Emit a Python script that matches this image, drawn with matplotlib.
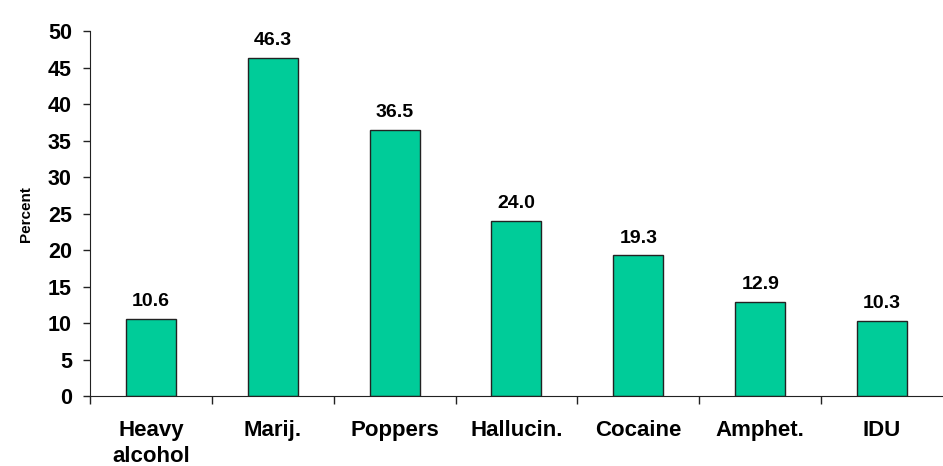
import matplotlib.pyplot as plt

categories = ["Heavy\nalcohol", "Marij.", "Poppers", "Hallucin.", "Cocaine", "Amphet.", "IDU"]
percents = [10.6, 46.3, 36.5, 24.0, 19.3, 12.9, 10.3]
yticks = [0, 5, 10, 15, 20, 25, 30, 35, 40, 45, 50]

plt.rcParams['font.family'] = ['Liberation Sans', 'DejaVu Sans']
plt.rcParams['font.weight'] = 'bold'

fig = plt.figure(figsize=(9.43, 4.66), dpi=100)
ax = fig.add_axes([0.0954, 0.150, 0.9046, 0.783])

x = list(range(len(categories)))
ax.bar(x, percents, width=0.41, color="#00CC99", edgecolor="#222222", linewidth=1)

for xi, v in zip(x, percents):
    ax.text(xi, v + 1.2, f"{v:.1f}", ha="center", va="bottom", fontsize=14, fontweight="bold")

ax.set_xlim(-0.5, 6.5)
ax.set_ylim(0, 50)
ax.set_yticks(yticks)
ax.set_yticklabels([str(t) for t in yticks], fontsize=15.5, fontweight="bold")
ax.set_xticks(x)
ax.set_xticklabels(categories, fontsize=16, fontweight="bold", va="top")
ax.tick_params(axis="x", length=0, pad=17)
ax.set_xticks([i - 0.5 for i in range(len(categories))], minor=True)
ax.tick_params(axis="x", which="minor", length=6, width=1, color="#222222")
ax.tick_params(axis="y", length=5, width=1, color="#222222", pad=8)
for lbl in ax.get_xticklabels():
    lbl.set_linespacing(1.3)

ax.spines["top"].set_visible(False)
ax.spines["right"].set_visible(False)
ax.spines["left"].set_color("#222222")
ax.spines["bottom"].set_color("#222222")
ax.set_ylabel("Percent", fontsize=11, fontweight="bold", labelpad=11)

fig.savefig("out.png", dpi=100)
